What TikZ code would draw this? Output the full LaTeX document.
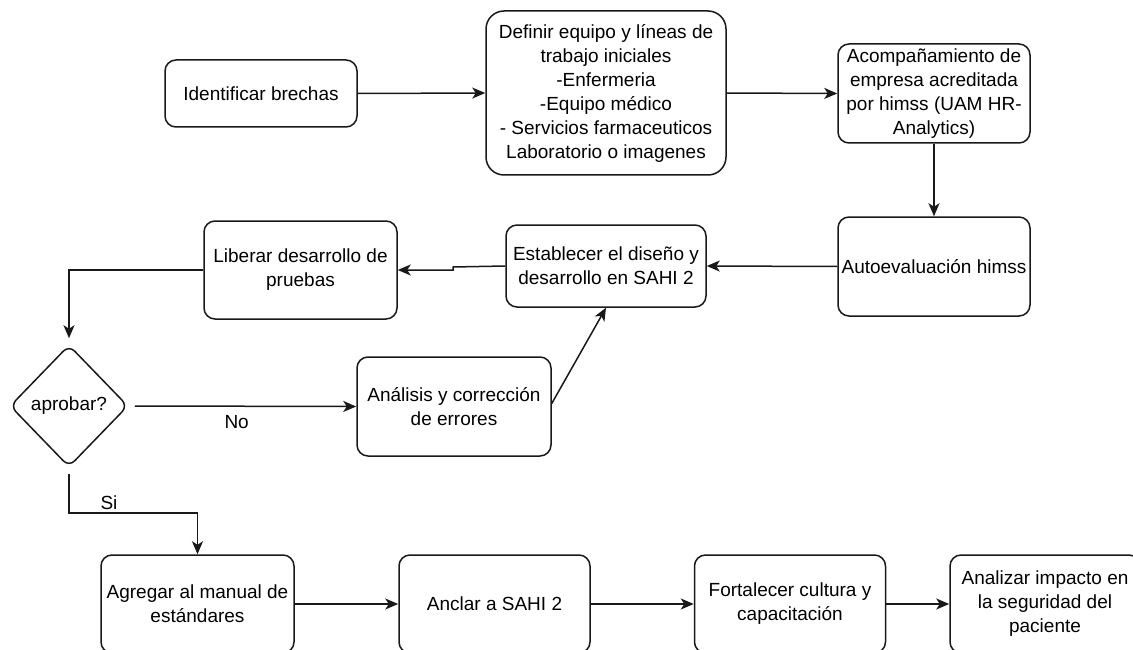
\documentclass[tikz,border=0pt]{standalone}
\usepackage{fontspec}
\setmainfont{Liberation Sans}
\usetikzlibrary{arrows.meta,shapes.geometric}
\begin{document}
\begin{tikzpicture}[x=1pt,y=-1pt,
  every node/.style={font=\fontsize{19}{24}\selectfont, text=black},
  box/.style={draw=black!90, line width=1.5pt, rounded corners=11pt, align=center, inner sep=0pt},
  dec/.style={draw=black!90, line width=1.5pt, diamond, rounded corners=8pt, inner sep=0pt, minimum width=118pt, minimum height=122pt},
  arr/.style={draw=black!90, line width=1.5pt, -{Stealth[length=13pt,width=11pt,inset=3.5pt]}},
  lbl/.style={inner sep=0pt}
]
\useasboundingbox (0,0) rectangle (1133,650);
\clip (0,0) rectangle (1133,650);
\fill[white] (0,0) rectangle (1133,650);

\node[box, minimum width=192pt, minimum height=67pt] (ident) at (261,93.5) {Identificar brechas};
\node[box, rounded corners=18pt, minimum width=240pt, minimum height=164pt] (def) at (606,93) {Definir equipo y líneas de\\trabajo iniciales\\-Enfermeria\\-Equipo médico\\- Servicios farmaceuticos\\Laboratorio o imagenes};
\node[box, minimum width=192pt, minimum height=99pt] (acomp) at (934,93.5) {Acompañamiento de\\empresa acreditada\\por himss (UAM HR-\\Analytics)};
\node[box, minimum width=192pt, minimum height=99pt] (auto) at (934,266.5) {Autoevaluación himss};
\node[box, minimum width=200pt, minimum height=82pt] (estab) at (606,266) {Establecer el diseño y\\desarrollo en SAHI 2};
\node[box, minimum width=193pt, minimum height=98pt] (lib) at (300.5,270) {Liberar desarrollo de\\pruebas};
\node[dec] (decide) at (69,406) {aprobar?};
\node[box, minimum width=194pt, minimum height=99pt] (anal) at (454,406.5) {Análisis y corrección\\de errores};
\node[box, minimum width=193pt, minimum height=98pt] (agr) at (197.5,604) {Agregar al manual de\\estándares};
\node[box, minimum width=191pt, minimum height=98pt] (ancl) at (494.5,604) {Anclar a SAHI 2};
\node[box, minimum width=191pt, minimum height=98pt] (fort) at (790,604) {Fortalecer cultura y\\capacitación};
\node[box, minimum width=190pt, minimum height=98pt] (anlz) at (1045,604) {Analizar impacto en\\la seguridad del\\paciente};

\coordinate (jog) at (453,267);
\coordinate (sibend) at (69,513);

\draw[arr] (ident.east) -- (def.west);
\draw[arr] (def.east) -- (acomp.west);
\draw[arr] (acomp.south) -- (auto.north);
\draw[arr] (auto.west) -- (estab.east);
\draw[arr] (estab.west) -- (jog) -- ++(0,3) -- (lib.east);
\draw[arr] (lib.west) -| ([yshift=6pt]decide.north);
\draw[arr] ([xshift=6pt]decide.east) -- node[lbl, pos=0.46, yshift=-16pt] (no) {No} (anal.west);
\draw[arr] ([yshift=3pt]anal.east) -- (estab.south);
\draw[arr] ([yshift=-6pt]decide.south) -- (sibend) -| (agr.north);
\node[lbl] (si) at (109,503) {Si};
\draw[arr] (agr.east) -- (ancl.west);
\draw[arr] (ancl.east) -- (fort.west);
\draw[arr] (fort.east) -- (anlz.west);
\end{tikzpicture}
\end{document}
